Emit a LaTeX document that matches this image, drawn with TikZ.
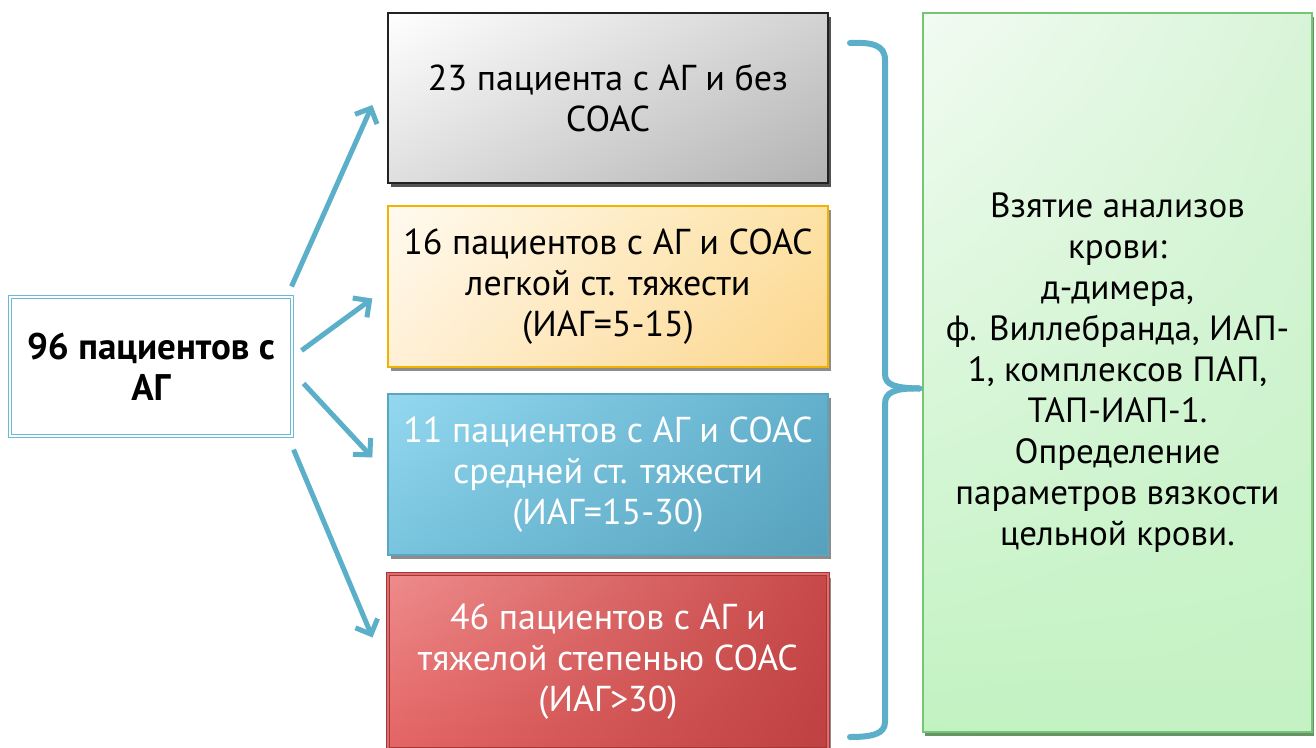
\documentclass[tikz,border=0pt]{standalone}
\usepackage{fontspec}
\setmainfont{PT Sans}
\usetikzlibrary{arrows.meta,shadows,shadings,calc}
\definecolor{arrblue}{HTML}{5BAFC8}
\definecolor{lbord}{HTML}{6BBAD3}
\definecolor{grayb}{HTML}{222222}
\definecolor{orab}{HTML}{F2B300}
\definecolor{blueb}{HTML}{5AA6BF}
\definecolor{redb}{HTML}{A83636}
\definecolor{greenb}{HTML}{76C576}
\begin{document}
\begin{tikzpicture}[x=1pt,y=-1pt,
  txt/.style={font=\fontsize{35}{41}\selectfont, align=center, inner sep=0pt},
  grpbox/.style={txt, font=\fontsize{36}{41}\selectfont, minimum width=440pt, line width=1.3pt},
  arr/.style={draw=arrblue, line width=5pt, -{Straight Barb[length=12pt,width=24pt]}},
  bracestyle/.style={draw=arrblue, line width=6pt, line cap=round},
  shad/.style={drop shadow={shadow xshift=3pt, shadow yshift=-4pt, fill=black, opacity=0.45}}
]
\useasboundingbox (0,0) rectangle (1316,747);

% left box
\node[txt, font=\fontsize{37}{41}\selectfont\bfseries, draw=lbord, double=white, double distance=2pt, line width=1.1pt,
      minimum width=282pt, minimum height=139pt] (src) at (151,366.5) {96 пациентов с\\АГ};

% group boxes
\node[grpbox, minimum height=170pt, draw=grayb, shade, upper left=white, upper right=gray!35, lower left=gray!25, lower right=gray!60,
      drop shadow={shadow xshift=3pt, shadow yshift=-4pt, fill=black!75, opacity=0.9}]
      (g1) at (608,98) {23 пациента с АГ и без\\СОАС};

\node[grpbox, minimum height=161pt, draw=orab, shade, upper left={rgb,255:red,255;green,250;blue,240}, upper right={rgb,255:red,253;green,226;blue,166},
      lower left={rgb,255:red,255;green,240;blue,214}, lower right={rgb,255:red,252;green,214;blue,140}, shad]
      (g2) at (608,286.5) {16 пациентов с АГ и СОАС\\легкой ст. тяжести\\(ИАГ=5-15)};

\node[grpbox, minimum height=161pt, draw=blueb, text=white, shade, upper left={rgb,255:red,148;green,216;blue,240}, upper right={rgb,255:red,98;green,176;blue,204},
      lower left={rgb,255:red,120;green,196;blue,222}, lower right={rgb,255:red,86;green,160;blue,188}, shad]
      (g3) at (608,474.5) {11 пациентов с АГ и СОАС\\средней ст. тяжести\\(ИАГ=15-30)};

\node[grpbox, minimum height=175pt, draw=redb, double={rgb,255:red,220;green,110;blue,110}, double distance=2pt, line width=1pt, text=white, shade,
      upper left={rgb,255:red,238;green,140;blue,140}, upper right={rgb,255:red,200;green,72;blue,72},
      lower left={rgb,255:red,228;green,100;blue,100}, lower right={rgb,255:red,190;green,64;blue,64}, shad]
      (g4) at (608,661.5) {46 пациентов с АГ и\\тяжелой степенью СОАС\\(ИАГ>30)};

% green box
\node[txt, minimum width=389pt, minimum height=719pt, draw=greenb, line width=1.3pt, shade,
      upper left={rgb,255:red,242;green,251;blue,242}, upper right={rgb,255:red,216;green,244;blue,216},
      lower left={rgb,255:red,194;green,242;blue,194}, lower right={rgb,255:red,196;green,242;blue,196},
      drop shadow={shadow xshift=2pt, shadow yshift=-4pt, fill=green!30!black, opacity=0.6}]
      (res) at (1117.5,372.5) {Взятие анализов\\крови:\\д-димера,\\ф. Виллебранда, ИАП-\\1, комплексов ПАП,\\ТАП-ИАП-1.\\Определение\\параметров вязкости\\цельной крови.};

% arrows
\draw[arr] ([shift={(-1,-10)}]src.north east) -- ([shift={(-15,7)}]g1.west);
\draw[arr] ([shift={(9,-16)}]src.east) -- ([shift={(-15,12)}]g2.west);
\draw[arr] ([shift={(11,17)}]src.east) -- ([shift={(-15,-17)}]g3.west);
\draw[arr] ([shift={(1,13)}]src.south east) -- ([shift={(-15,-24)}]g4.west);

% brace
\coordinate (btop) at (850,43);
\coordinate (bbot) at (850,737);
\coordinate (btip) at ($(res.west)+(-3,16)$);
\draw[bracestyle] (btop) .. controls (872,42) and (885,45) .. (885,60) -- (885,374)
   .. controls (885,385) and (895,388) .. (btip);
\draw[bracestyle] (btip) .. controls (895,388) and (885,392) .. (885,404) -- (885,722)
   .. controls (885,734) and (872,737) .. (bbot);
\end{tikzpicture}
\end{document}
